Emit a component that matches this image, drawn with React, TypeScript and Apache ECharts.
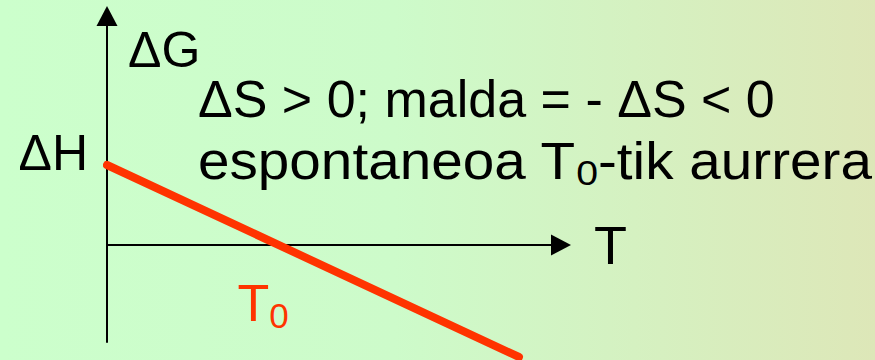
import React, { useEffect, useRef } from "react";
import * as echarts from "echarts";

// Values (arbitrary units: T on x, ΔG on y)
const DELTA_H = 4;
const T0 = 8;
const LINE_T = [0, 19.6];
const LINE_G = [DELTA_H, -5.6];
const X_RANGE = [0, 21.6];
const Y_RANGE = [-4.85, 11.45];

const X_NAME = "T";
const Y_NAME = "ΔG";
const H_LABEL = "ΔH";
const T0_LABEL = ["T", "0"];
const TEXT_LINE_1 = "ΔS > 0; malda = - ΔS < 0";
const TEXT_LINE_2 = ["espontaneoa T", "0", "-tik aurrera"];

const FONT = "'Liberation Sans', Arial, sans-serif";
const RED = "#FF3300";

export default function App() {
  const ref = useRef<HTMLDivElement>(null);

  useEffect(() => {
    document.body.style.margin = "0";
    const chart = echarts.init(ref.current!, null, { renderer: "svg" });

    const axisCommon = {
      type: "value",
      axisTick: { show: false },
      axisLabel: { show: false },
      splitLine: { show: false },
    };

    const option = {
      animation: false,
      grid: { left: 107, right: 314, top: 16, bottom: 18, containLabel: false },
      xAxis: {
        ...axisCommon,
        min: X_RANGE[0],
        max: X_RANGE[1],
        axisLine: {
          show: true,
          onZero: true,
          symbol: ["none", "triangle"],
          symbolSize: [21, 20],
          lineStyle: { color: "#000", width: 2 },
        },
        name: X_NAME,
        nameLocation: "end",
        nameGap: 33,
        nameTextStyle: {
          fontFamily: FONT,
          fontSize: 54,
          color: "#000",
          padding: [0, 0, 16, 0],
        },
      },
      yAxis: {
        ...axisCommon,
        min: Y_RANGE[0],
        max: Y_RANGE[1],
        axisLine: {
          show: true,
          onZero: true,
          symbol: ["none", "triangle"],
          symbolSize: [21, 20],
          lineStyle: { color: "#000", width: 2 },
        },
        name: Y_NAME,
        nameLocation: "end",
        nameGap: -34,
        nameTextStyle: {
          fontFamily: FONT,
          fontSize: 50,
          color: "#000",
          align: "left",
          verticalAlign: "middle",
          padding: [0, 0, 0, 21],
        },
      },
      series: [
        {
          type: "line",
          data: LINE_T.map((t, i) => [t, LINE_G[i]]),
          symbol: "none",
          clip: false,
          silent: true,
          lineStyle: { color: RED, width: 8, cap: "round" },
          markPoint: {
            symbol: "circle",
            symbolSize: 0,
            silent: true,
            data: [
              {
                coord: [0, DELTA_H],
                label: {
                  show: true,
                  formatter: H_LABEL,
                  position: "left",
                  distance: 19,
                  offset: [0, -12],
                  fontFamily: FONT,
                  fontSize: 50,
                  color: "#000",
                },
              },
              {
                coord: [T0, 0],
                label: {
                  show: true,
                  formatter: `{a|${T0_LABEL[0]}}{s|${T0_LABEL[1]}}`,
                  position: "inside",
                  offset: [-12, 58],
                  rich: {
                    a: { fontFamily: FONT, fontSize: 52, color: RED, lineHeight: 60 },
                    s: {
                      fontFamily: FONT,
                      fontSize: 35,
                      color: RED,
                      lineHeight: 12,
                      verticalAlign: "bottom",
                    },
                  },
                },
              },
            ],
          },
        },
      ],
      graphic: [
        {
          type: "text",
          x: 198,
          y: 99,
          silent: true,
          style: {
            text: TEXT_LINE_1,
            x: 0,
            y: 0,
            fontFamily: FONT,
            fontSize: 52,
            fill: "#000",
            align: "left",
            verticalAlign: "middle",
          },
        },
        {
          type: "text",
          x: 198,
          y: 161,
          scaleX: 1.09,
          silent: true,
          style: {
            text: `{a|${TEXT_LINE_2[0]}}{s|${TEXT_LINE_2[1]}}{a|${TEXT_LINE_2[2]}}`,
            x: 0,
            y: 0,
            fontFamily: FONT,
            fontSize: 52,
            fill: "#000",
            align: "left",
            verticalAlign: "middle",
            rich: {
              a: {
                fontFamily: FONT,
                fontSize: 52,
                fill: "#000",
                color: "#000",
                lineHeight: 60,
              },
              s: {
                fontFamily: FONT,
                fontSize: 36,
                fill: "#000",
                color: "#000",
                lineHeight: 20,
                verticalAlign: "bottom",
              },
            },
          },
        },
      ],
    };

    chart.setOption(option as any);
    return () => chart.dispose();
  }, []);

  return (
    <div
      ref={ref}
      style={{
        width: 875,
        height: 360,
        background:
          "linear-gradient(to right, #CCFFCC 0%, #CDFBCA 45%, #DDE7B8 100%)",
      }}
    />
  );
}
